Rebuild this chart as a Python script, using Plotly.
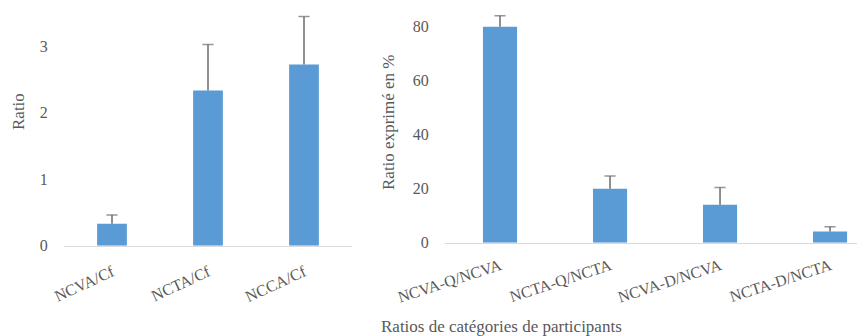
import plotly.graph_objects as go

left_cats = ["NCVA/Cf", "NCTA/Cf", "NCCA/Cf"]
left_vals = [0.33, 2.33, 2.72]
left_err = [0.13, 0.69, 0.72]

right_cats = ["NCVA-Q/NCVA", "NCTA-Q/NCTA", "NCVA-D/NCVA", "NCTA-D/NCTA"]
right_vals = [79.7, 19.9, 14.0, 4.1]
right_err = [4.1, 4.7, 6.4, 1.8]

W, H = 857, 336
BLUE = "#5B9BD5"
GRAY = "#595959"
ERR = "#6b6b6b"
FONT = "Liberation Serif"

fig = go.Figure()


def err_trace(cats, vals, errs, xa, ya):
    xs, ys, syms = [], [], []
    for c, v, e in zip(cats, vals, errs):
        xs += [c, c, None]
        ys += [v, v + e, None]
        syms += ["line-ew", "line-ew-open", "line-ew"]
    return go.Scatter(x=xs, y=ys, mode="lines+markers", xaxis=xa, yaxis=ya,
                      line=dict(color=ERR, width=1.5),
                      marker=dict(symbol=syms, size=[0, 8, 0] * len(cats),
                                  line=dict(color=ERR, width=1.5), color=ERR),
                      connectgaps=False, hoverinfo="skip")


fig.add_trace(go.Bar(x=left_cats, y=left_vals, marker=dict(color=BLUE, line=dict(width=0)),
                     xaxis="x", yaxis="y", width=0.31))
fig.add_trace(err_trace(left_cats, left_vals, left_err, "x", "y"))
fig.add_trace(go.Bar(x=right_cats, y=right_vals, marker=dict(color=BLUE, line=dict(width=0)),
                     xaxis="x2", yaxis="y2", width=0.31))
fig.add_trace(err_trace(right_cats, right_vals, right_err, "x2", "y2"))

tickfont = dict(family=FONT, size=16, color=GRAY)
xtickfont = dict(family=FONT, size=16, color=GRAY)
fig.update_layout(
    width=W, height=H, margin=dict(l=0, r=0, t=0, b=0, autoexpand=False),
    paper_bgcolor="white", plot_bgcolor="white", showlegend=False,
    xaxis=dict(domain=[64 / W, 352 / W], range=[-0.5, 2.5], showline=True, linecolor="#d9d9d9",
               linewidth=1, tickangle=-25, tickfont=xtickfont, ticks="outside", ticklen=10,
               tickcolor="rgba(0,0,0,0)", anchor="y", categoryorder="array", categoryarray=left_cats),
    yaxis=dict(domain=[1 - 245.7 / H, 1 - 12.6 / H], range=[0, 3.5], tickvals=[0, 1, 2, 3],
               showgrid=False, zeroline=False, showline=False, tickfont=tickfont,
               ticks="outside", ticklen=12, tickcolor="rgba(0,0,0,0)", anchor="x"),
    xaxis2=dict(domain=[445 / W, 1], range=[-0.5, 3.245], showline=True, linecolor="#d9d9d9",
                linewidth=1, tickangle=-18, tickfont=xtickfont, ticks="outside", ticklen=7,
                tickcolor="rgba(0,0,0,0)", anchor="y2", categoryorder="array", categoryarray=right_cats),
    yaxis2=dict(domain=[1 - 242.7 / H, 1], range=[0, 89.6], tickvals=[0, 20, 40, 60, 80],
                showgrid=False, zeroline=False, showline=False, tickfont=tickfont,
                ticks="outside", ticklen=12, tickcolor="rgba(0,0,0,0)", anchor="x2"),
    annotations=[
        dict(text="Ratio", x=19 / W, y=1 - 112 / H, xref="paper", yref="paper", showarrow=False,
             textangle=-90, font=dict(family=FONT, size=17, color=GRAY), xanchor="center", yanchor="middle"),
        dict(text="Ratio exprimé en %", x=388 / W, y=1 - 122 / H, xref="paper", yref="paper", showarrow=False,
             textangle=-90, font=dict(family=FONT, size=17, color=GRAY), xanchor="center", yanchor="middle"),
        dict(text="Ratios de catégories de participants", x=501 / W, y=1 - 326 / H, xref="paper", yref="paper",
             showarrow=False, font=dict(family=FONT, size=17, color=GRAY), xanchor="center", yanchor="middle"),
    ],
)

fig.write_html("out.html", config={"displayModeBar": False},
               post_script="document.body.style.margin='0';document.body.style.overflow='hidden';")
